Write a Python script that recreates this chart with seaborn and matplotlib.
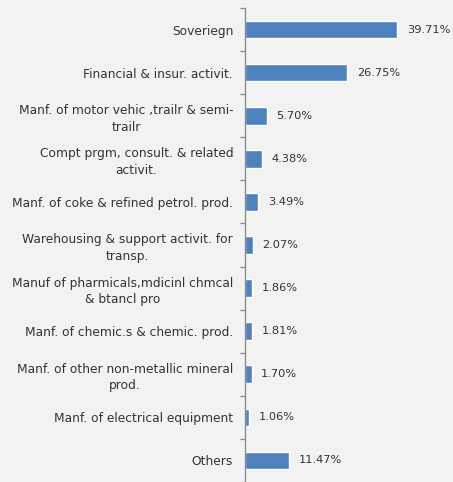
import matplotlib
matplotlib.use("Agg")
import matplotlib.pyplot as plt
import seaborn as sns
import pandas as pd
import numpy as np

categories = [
    "Soveriegn",
    "Financial & insur. activit.",
    "Manf. of motor vehic ,trailr & semi-\ntrailr",
    "Compt prgm, consult. & related\nactivit.",
    "Manf. of coke & refined petrol. prod.",
    "Warehousing & support activit. for\ntransp.",
    "Manuf of pharmicals,mdicinl chmcal\n& btancl pro",
    "Manf. of chemic.s & chemic. prod.",
    "Manf. of other non-metallic mineral\nprod.",
    "Manf. of electrical equipment",
    "Others",
]
values = [39.71, 26.75, 5.70, 4.38, 3.49, 2.07, 1.86, 1.81, 1.70, 1.06, 11.47]

df = pd.DataFrame({"cat": categories, "val": values})

sns.set_style("white")
plt.rcParams["font.family"] = ["DejaVu Sans"]

bg = "#F2F2F2"
txt = "#333333"
fig = plt.figure(figsize=(4.53, 4.82), dpi=100, facecolor=bg)
ax = fig.add_axes([245/453, 0, 1 - 245/453, 474/482])
ax.set_facecolor(bg)

sns.barplot(data=df, y="cat", x="val", orient="h", color="#4F81BD",
            width=0.41, saturation=1, ax=ax)

ax.set_xlim(0, (453 - 245) / 3.83)
ax.set_ylim(10.37, -0.5)

for s in ["top", "right", "bottom"]:
    ax.spines[s].set_visible(False)
ax.spines["left"].set_color("#868686")
ax.spines["left"].set_linewidth(0.9)

ax.set_xticks([])
ax.set_xlabel("")
ax.set_ylabel("")
ax.tick_params(axis="y", which="major", left=False, length=0, pad=8.5,
               labelsize=8.8, labelcolor=txt)
ax.set_yticks(np.arange(-0.5, 11, 1.0), minor=True)
ax.tick_params(axis="y", which="minor", left=True, length=3.5, width=0.9,
               color="#868686")
for t in ax.get_yticklabels():
    t.set_multialignment("center")
    t.set_linespacing(1.35)

for c in ax.containers:
    ax.bar_label(c, labels=[f"{v:.2f}%" for v in values], padding=7,
                 fontsize=8.2, color=txt)

fig.savefig("out.png", dpi=100, facecolor=bg)
